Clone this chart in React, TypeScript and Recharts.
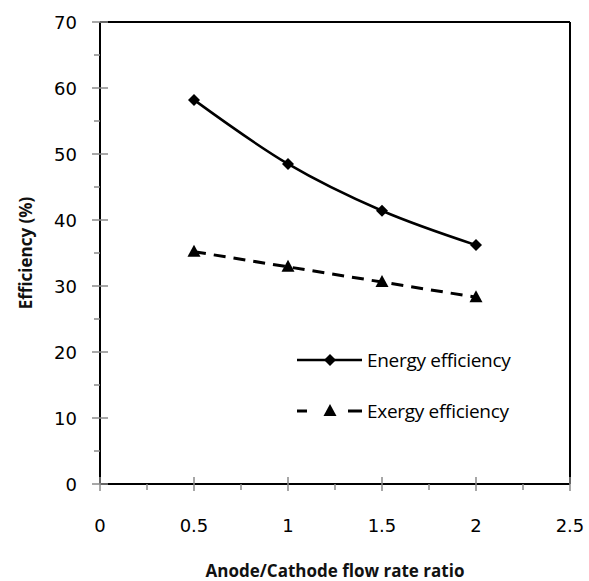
import { LineChart, Line, XAxis, YAxis, ReferenceLine, Legend } from 'recharts';

const flowRatio = [0.5, 1, 1.5, 2];
const energyEfficiency = [58.2, 48.5, 41.4, 36.2];
const exergyEfficiency = [35.2, 32.9, 30.6, 28.3];

const xTicks = [0, 0.25, 0.5, 0.75, 1, 1.25, 1.5, 1.75, 2, 2.25, 2.5];
const xLabels = [0, 0.5, 1, 1.5, 2, 2.5];
const yTicks = [0, 5, 10, 15, 20, 25, 30, 35, 40, 45, 50, 55, 60, 65, 70];
const yLabels = [0, 10, 20, 30, 40, 50, 60, 70];

const data = flowRatio.map((r, i) => ({
  ratio: r,
  energy: energyEfficiency[i],
  exergy: exergyEfficiency[i],
}));

const TICK_FONT = '"DejaVu Sans", sans-serif';
const TITLE_FONT = '"Open Sans", sans-serif';
const TICK_GRAY = '#8a8a8a';

function XTick({ x, y, payload }: any) {
  const major = xLabels.includes(payload.value);
  return (
    <g>
      <line x1={x} x2={x} y1={major ? y - 7 : y} y2={y + (major ? 7 : 6)} stroke={TICK_GRAY} strokeWidth={1.5} />
      {major && (
        <text x={x} y={y + 41} textAnchor="middle" dominantBaseline="central" fontFamily={TICK_FONT} fontSize={18} fill="#000">
          {payload.value}
        </text>
      )}
    </g>
  );
}

function YTick({ x, y, payload }: any) {
  const major = yLabels.includes(payload.value);
  return (
    <g>
      <line x1={x - (major ? 8 : 6)} x2={major ? x + 8 : x} y1={y} y2={y} stroke={TICK_GRAY} strokeWidth={1.5} />
      {major && (
        <text x={x - 23} y={y} textAnchor="end" dominantBaseline="central" fontFamily={TICK_FONT} fontSize={18} fill="#000">
          {payload.value}
        </text>
      )}
    </g>
  );
}

function Diamond({ cx, cy }: any) {
  if (cx == null || cy == null) return null;
  const r = 6;
  return <polygon points={`${cx},${cy - r} ${cx + r},${cy} ${cx},${cy + r} ${cx - r},${cy}`} fill="#000" />;
}

function Triangle({ cx, cy }: any) {
  if (cx == null || cy == null) return null;
  return <polygon points={`${cx},${cy - 7} ${cx + 6.5},${cy + 5} ${cx - 6.5},${cy + 5}`} fill="#000" />;
}

const series = [
  { key: 'energy', name: 'Energy efficiency', dash: undefined, Marker: Diamond },
  { key: 'exergy', name: 'Exergy efficiency', dash: '12 8', Marker: Triangle },
];

function LegendBox() {
  return (
    <div style={{ width: 275 }}>
      {series.map((s) => (
        <div key={s.key} style={{ display: 'flex', alignItems: 'center', height: 51 }}>
          <svg width={70} height={20}>
            {s.dash ? (
              <>
                <line x1={2} x2={12} y1={10} y2={10} stroke="#000" strokeWidth={3} />
                <line x1={53} x2={67} y1={10} y2={10} stroke="#000" strokeWidth={3} />
              </>
            ) : (
              <line x1={2} x2={67} y1={10} y2={10} stroke="#000" strokeWidth={2.5} />
            )}
            <s.Marker cx={35} cy={10} />
          </svg>
          <span style={{ fontFamily: TITLE_FONT, fontSize: 19, color: '#000', marginLeft: 2, letterSpacing: -0.3 }}>{s.name}</span>
        </div>
      ))}
    </div>
  );
}

export default function App() {
  return (
    <div style={{ position: 'absolute', left: 0, top: 0, background: '#fff' }}>
      <LineChart width={589} height={581} data={data} margin={{ top: 22, right: 19, left: 0, bottom: 0 }}>
        <XAxis
          dataKey="ratio"
          type="number"
          domain={[0, 2.5]}
          ticks={xTicks}
          interval={0}
          height={97}
          tickSize={0}
          tickMargin={0}
          tickLine={false}
          axisLine={{ stroke: '#000', strokeWidth: 2 }}
          tick={<XTick />}
          label={{
            content: ({ viewBox }: any) => (
              <text
                x={viewBox.x + viewBox.width / 2}
                y={viewBox.y + 86}
                textAnchor="middle"
                dominantBaseline="central"
                fontFamily={TITLE_FONT}
                fontWeight={700}
                fontSize={17}
                fill="#111"
              >
                Anode/Cathode flow rate ratio
              </text>
            ),
          }}
        />
        <YAxis
          type="number"
          domain={[0, 70]}
          ticks={yTicks}
          interval={0}
          width={100}
          tickSize={0}
          tickMargin={0}
          tickLine={false}
          axisLine={{ stroke: '#000', strokeWidth: 2 }}
          tick={<YTick />}
          label={{
            content: ({ viewBox }: any) => {
              const cx = viewBox.x + 25;
              const cy = viewBox.y + viewBox.height / 2;
              return (
                <text
                  x={cx}
                  y={cy}
                  transform={`rotate(-90, ${cx}, ${cy})`}
                  textAnchor="middle"
                  dominantBaseline="central"
                  fontFamily={TITLE_FONT}
                  fontWeight={700}
                  fontSize={17}
                  fill="#111"
                >
                  Efficiency (%)
                </text>
              );
            },
          }}
        />
        <ReferenceLine y={70} stroke="#000" strokeWidth={2} />
        <ReferenceLine x={2.5} stroke="#000" strokeWidth={2} />
        <Line
          dataKey="energy"
          name="Energy efficiency"
          type="monotone"
          stroke="#000"
          strokeWidth={2.5}
          dot={<Diamond />}
          activeDot={false}
          isAnimationActive={false}
        />
        <Line
          dataKey="exergy"
          name="Exergy efficiency"
          type="linear"
          stroke="#000"
          strokeWidth={3}
          strokeDasharray="12 8"
          dot={<Triangle />}
          activeDot={false}
          isAnimationActive={false}
        />
        <Legend
          layout="horizontal"
          verticalAlign="middle"
          align="center"
          content={<LegendBox />}
          wrapperStyle={{ left: 295, top: 334, width: 275 }}
        />
      </LineChart>
    </div>
  );
}
